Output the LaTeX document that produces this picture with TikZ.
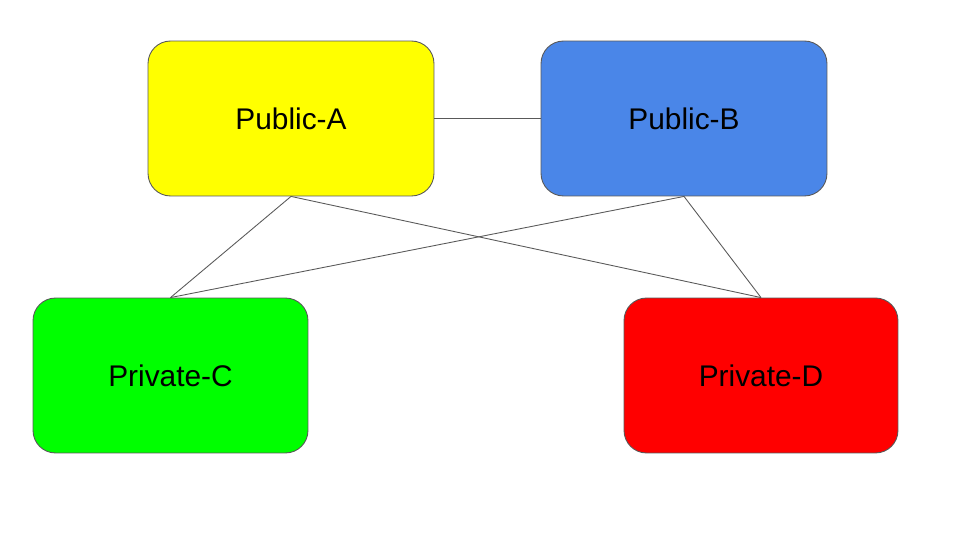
\documentclass[tikz,border=0pt]{standalone}
\usepackage{fontspec}
\setmainfont{Liberation Sans}
\usepackage{tikz}
\usetikzlibrary{arrows}
\definecolor{pubyellow}{HTML}{FFFF00}
\definecolor{pubblue}{HTML}{4A86E8}
\definecolor{privgreen}{HTML}{00FF00}
\definecolor{privred}{HTML}{FF0000}
\definecolor{rimgray}{HTML}{595959}

\begin{document}
\begin{tikzpicture}[x=0.02cm,y=-0.02cm,semithick]
  \tikzstyle{net}=[rectangle,rounded corners=0.45cm,draw=rimgray,line width=0.5pt,
                   minimum height=3.1cm,inner sep=0pt,font=\fontsize{17}{20}\selectfont]
  \tikzstyle{link}=[draw=rimgray,line width=0.5pt]

  \useasboundingbox (0,0) rectangle (960,540);

  \node[net,fill=pubyellow,minimum width=5.72cm] (A) at (291,118.5) {Public-A};
  \node[net,fill=pubblue,minimum width=5.72cm]   (B) at (684,118.5) {Public-B};
  \node[net,fill=privgreen,minimum width=5.5cm]  (C) at (170.5,375.5) {Private-C};
  \node[net,fill=privred,minimum width=5.48cm]   (D) at (761,375.5) {Private-D};

  \path[link]
(A) edge (B)
(A.south) edge (C.north)
(A.south) edge (D.north)
(B.south) edge (C.north)
(B.south) edge (D.north)
;

\end{tikzpicture}
\end{document}
